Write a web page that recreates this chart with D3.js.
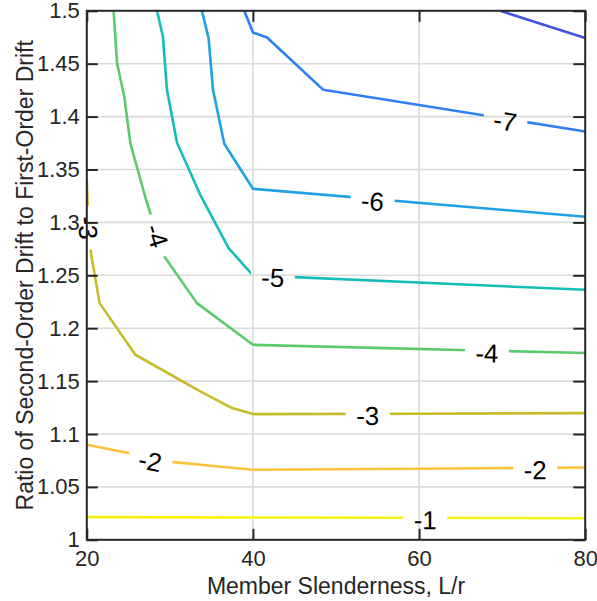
<!DOCTYPE html>
<head>
  <meta charset="utf-8">
  <script src="https://d3js.org/d3.v7.min.js"></script>
  <style>
    body { margin:0; background:#ffffff; }
    text { font-family: "Liberation Sans", Arial, sans-serif; }
  </style>
</head>

<body>
  <script>
    // axis ticks
    var xTicks = [20, 40, 60, 80];
    var yTicks = [1, 1.05, 1.1, 1.15, 1.2, 1.25, 1.3, 1.35, 1.4, 1.45, 1.5];

    // contour levels and their colours
    var levels = [-1, -2, -3, -4, -5, -6, -7, -8];
    var levelColors = ["#f5f30f", "#fcc23a", "#c8bb28", "#5cca6c", "#16bdb8", "#1fa2e2", "#2e7ff6", "#4352e6"];

    // contour lines as [L/r, drift ratio]
    var lineM1 = [[20, 1.0214], [80, 1.0204]];
    var lineM2 = [[20, 1.0898], [25, 1.082], [30.5, 1.0734], [33.7, 1.0709], [40, 1.0662], [60, 1.0672], [80, 1.0683]];
    var lineM3 = [[20, 1.3403], [20.15, 1.305], [20.5, 1.271], [21.54, 1.2237], [25.84, 1.1749], [33.66, 1.1402], [37.48, 1.1245], [40, 1.1188], [60, 1.1192], [80, 1.1197]];
    var lineM4 = [[23.23, 1.5], [23.64, 1.4506], [24.51, 1.419], [25.24, 1.375], [27.13, 1.3214], [29.33, 1.2678], [33.26, 1.2237], [40, 1.1843], [80, 1.1765]];
    var lineM5 = [[28.45, 1.5], [29.17, 1.4754], [29.65, 1.4253], [30.86, 1.3752], [33.66, 1.3261], [37.07, 1.2757], [40, 1.25], [80, 1.2363]];
    var lineM6 = [[33.86, 1.5], [34.66, 1.4742], [35.19, 1.4253], [36.55, 1.3743], [40, 1.3318], [80, 1.3053]];
    var lineM7 = [[38.96, 1.5], [40, 1.4795], [41.7, 1.4748], [48.47, 1.4253], [80, 1.386]];
    var lineM8 = [[69.77, 1.5], [80, 1.4742]];
    var contours = [lineM1, lineM2, lineM3, lineM4, lineM5, lineM6, lineM7, lineM8];

    // inline contour labels
    var labelLevels = [-7, -6, -5, -4, -4, -3, -3, -2, -2, -1];
    var labelX = [70.37, 54.39, 42.39, 68.17, 28.45, 20.14, 53.82, 27.64, 73.98, 60.75];
    var labelY = [1.396, 1.3204, 1.2481, 1.1765, 1.2875, 1.2949, 1.1174, 1.0747, 1.0662, 1.0189];

    var W = 597, H = 601;
    var plotLeft = 86.8, plotRight = 585.2, plotTop = 10.8, plotBottom = 539.8;

    var x = d3.scaleLinear().domain([20, 80]).range([plotLeft, plotRight]);
    var y = d3.scaleLinear().domain([1, 1.5]).range([plotBottom, plotTop]);

    var svg = d3.select("body").append("svg")
      .attr("width", W)
      .attr("height", H);

    var defs = svg.append("defs");
    defs.append("clipPath").attr("id", "plotClip")
      .append("rect")
      .attr("x", plotLeft).attr("y", plotTop)
      .attr("width", plotRight - plotLeft).attr("height", plotBottom - plotTop);

    // angle of the contour at each label (pixel space)
    function labelAngle(pts, lx, ly) {
      var best = Infinity, ang = 0;
      for (var i = 0; i < pts.length - 1; i++) {
        var x1 = x(pts[i][0]), y1 = y(pts[i][1]), x2 = x(pts[i + 1][0]), y2 = y(pts[i + 1][1]);
        var dx = x2 - x1, dy = y2 - y1;
        var t = ((lx - x1) * dx + (ly - y1) * dy) / (dx * dx + dy * dy);
        t = Math.max(0, Math.min(1, t));
        var d = Math.hypot(x1 + t * dx - lx, y1 + t * dy - ly);
        if (d < best) {
          best = d;
          ang = dx === 0 ? 90 : Math.atan(dy / dx) * 180 / Math.PI;
        }
      }
      return ang;
    }

    var labels = labelLevels.map(function (lv, i) {
      var px = x(labelX[i]), py = y(labelY[i]);
      var pts = contours[levels.indexOf(lv)];
      return { level: lv, px: px, py: py, angle: labelAngle(pts, px, py) };
    });

    // mask cutting gaps in the lines under the labels
    var mask = defs.append("mask").attr("id", "gaps")
      .attr("maskUnits", "userSpaceOnUse")
      .attr("x", 0).attr("y", 0).attr("width", W).attr("height", H);
    mask.append("rect").attr("x", 0).attr("y", 0).attr("width", W).attr("height", H).attr("fill", "white");
    mask.selectAll("rect.gap")
      .data(labels)
      .enter()
      .append("rect")
      .attr("class", "gap")
      .attr("x", -22).attr("y", -13)
      .attr("width", 44).attr("height", 26)
      .attr("fill", "black")
      .attr("transform", function (d) { return "translate(" + d.px + "," + d.py + ") rotate(" + d.angle + ")"; });

    // grid
    var grid = svg.append("g");
    grid.selectAll("line.h")
      .data(yTicks.slice(1, -1))
      .enter().append("line")
      .attr("x1", plotLeft).attr("x2", plotRight)
      .attr("y1", function (d) { return y(d); })
      .attr("y2", function (d) { return y(d); })
      .attr("stroke", "#dadada")
      .attr("stroke-width", 1.6);
    grid.selectAll("line.v")
      .data(xTicks.slice(1, -1))
      .enter().append("line")
      .attr("y1", plotTop).attr("y2", plotBottom)
      .attr("x1", function (d) { return x(d); })
      .attr("x2", function (d) { return x(d); })
      .attr("stroke", "#dadada")
      .attr("stroke-width", 1.6);

    // contour lines
    var lineGen = d3.line()
      .x(function (d) { return x(d[0]); })
      .y(function (d) { return y(d[1]); });

    svg.append("g")
      .attr("clip-path", "url(#plotClip)")
      .append("g")
      .attr("mask", "url(#gaps)")
      .selectAll("path")
      .data(contours)
      .enter()
      .append("path")
      .attr("d", lineGen)
      .attr("fill", "none")
      .attr("stroke", function (d, i) { return levelColors[i]; })
      .attr("stroke-width", 2.6)
      .attr("stroke-linejoin", "round");

    // labels
    svg.append("g")
      .selectAll("text")
      .data(labels)
      .enter()
      .append("text")
      .attr("transform", function (d) { return "translate(" + d.px + "," + d.py + ") rotate(" + d.angle + ")"; })
      .attr("text-anchor", "middle")
      .attr("dy", "0.36em")
      .style("font-size", "26px")
      .attr("fill", "#000000")
      .text(function (d) { return d.level; });

    // axes
    function styleAxis(g) {
      g.select(".domain").remove();
      g.selectAll(".tick line").attr("stroke", "#262626").attr("stroke-width", 2);
      g.selectAll(".tick text").attr("fill", "#262626").style("font-size", "22px")
        .style("font-family", "'Liberation Sans', Arial, sans-serif");
    }

    svg.append("g")
      .attr("transform", "translate(0," + plotBottom + ")")
      .call(d3.axisBottom(x).tickValues(xTicks).tickSize(-11).tickPadding(11).tickFormat(d3.format("d")))
      .call(styleAxis);

    svg.append("g")
      .attr("transform", "translate(0," + plotTop + ")")
      .call(d3.axisTop(x).tickValues(xTicks).tickSize(-11).tickFormat(""))
      .call(styleAxis);

    svg.append("g")
      .attr("transform", "translate(" + plotLeft + ",0)")
      .call(d3.axisLeft(y).tickValues(yTicks).tickSize(-11).tickPadding(7).tickFormat(function (d) { return String(d); }))
      .call(styleAxis);

    svg.append("g")
      .attr("transform", "translate(" + plotRight + ",0)")
      .call(d3.axisRight(y).tickValues(yTicks).tickSize(-12).tickFormat(""))
      .call(styleAxis);

    svg.append("rect")
      .attr("x", plotLeft).attr("y", plotTop)
      .attr("width", plotRight - plotLeft).attr("height", plotBottom - plotTop)
      .attr("fill", "none")
      .attr("stroke", "#262626")
      .attr("stroke-width", 2);

    // axis titles
    svg.append("text")
      .attr("x", (plotLeft + plotRight) / 2)
      .attr("y", 594)
      .attr("text-anchor", "middle")
      .attr("fill", "#262626")
      .style("font-size", "23px")
      .text("Member Slenderness, L/r");

    svg.append("text")
      .attr("transform", "translate(33," + (plotTop + plotBottom) / 2 + ") rotate(-90)")
      .attr("text-anchor", "middle")
      .attr("fill", "#262626")
      .style("font-size", "23px")
      .text("Ratio of Second-Order Drift to First-Order Drift");
  </script>
</body>
